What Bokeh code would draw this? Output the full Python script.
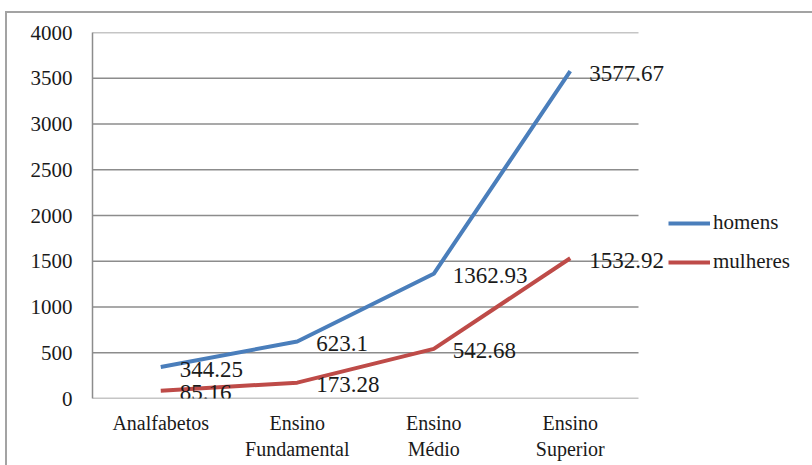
from bokeh.plotting import figure
from bokeh.models import (ColumnDataSource, LabelSet, Legend, LegendItem, FixedTicker,
                          Range1d, InlineStyleSheet)
from bokeh.embed import file_html
from bokeh.resources import INLINE

categories = ["Analfabetos", "Ensino\nFundamental", "Ensino\nMédio", "Ensino\nSuperior"]
homens = [344.25, 623.1, 1362.93, 3577.67]
mulheres = [85.16, 173.28, 542.68, 1532.92]
y_ticks = [0, 500, 1000, 1500, 2000, 2500, 3000, 3500, 4000]
series_names = ["homens", "mulheres"]

FONT = "Liberation Serif"
BLUE = "#4a7ebb"
RED = "#be4b48"
GRID = "#8c8c8c"
TXT = "#1a1a1a"

n = len(categories)
xpos = [i + 0.5 for i in range(n)]          # category centres on a linear scale
# plot area is 546 px wide for the 4 categories; the frame continues to the right edge
# so that labels and legend outside the category area are not clipped
x_end = n * 720 / 546

css = InlineStyleSheet(css=""":host::before { content: ""; position: absolute; left: 5px; top: 11px;
 right: 0px; bottom: 0px; border-top: 2px solid #a3a3a3; border-left: 2px solid #a3a3a3;
 pointer-events: none; z-index: 5; }
:host { position: relative; }""")

p = figure(width=812, height=465, x_range=Range1d(0, x_end), y_range=Range1d(0, 4000),
           output_backend="svg", toolbar_location=None,
           min_border_left=92, min_border_right=0, min_border_top=32, min_border_bottom=67,
           stylesheets=[css])
p.outline_line_color = None
p.background_fill_color = None
p.border_fill_color = None

src_h = ColumnDataSource(dict(x=xpos, y=homens, t=[str(v) for v in homens]))
src_m = ColumnDataSource(dict(x=xpos, y=mulheres, t=[str(v) for v in mulheres]))
src_g = ColumnDataSource(dict(x0=[0] * len(y_ticks), x1=[n] * len(y_ticks), y=y_ticks))

# grid lines limited to the category area
p.xgrid.grid_line_color = None
p.ygrid.grid_line_color = None
p.segment(x0="x0", x1="x1", y0="y", y1="y", source=src_g, line_color=GRID, line_width=1.5)

p.yaxis.ticker = FixedTicker(ticks=y_ticks)
p.xaxis.ticker = FixedTicker(ticks=xpos)
p.xaxis.major_label_overrides = {x: c for x, c in zip(xpos, categories)}
for ax in (p.xaxis[0], p.yaxis[0]):
    ax.axis_line_color = GRID
    ax.axis_line_width = 1.5
    ax.major_tick_line_color = None
    ax.minor_tick_line_color = None
    ax.major_tick_in = 0
    ax.major_tick_out = 0
    ax.major_label_text_font = FONT
    ax.major_label_text_color = TXT
p.xaxis.axis_line_color = None
p.yaxis.major_label_text_font_size = "21px"
p.yaxis.major_label_standoff = 20
p.xaxis.major_label_text_font_size = "20px"
p.xaxis.major_label_standoff = 13

r1 = p.line("x", "y", source=src_h, line_color=BLUE, line_width=4)
r2 = p.line("x", "y", source=src_m, line_color=RED, line_width=4)

for s in (src_h, src_m):
    p.add_layout(LabelSet(x="x", y="y", text="t", source=s, x_offset=19, y_offset=-2,
                          text_baseline="middle", text_align="left",
                          text_font=FONT, text_font_size="23px", text_color=TXT))

legend = Legend(items=[LegendItem(label=series_names[0], renderers=[r1]),
                       LegendItem(label=series_names[1], renderers=[r2])],
                location=(576, 124), padding=0, margin=0, border_line_color=None,
                background_fill_alpha=0, glyph_width=42, glyph_height=24, label_height=24,
                label_standoff=3, spacing=14, label_text_font=FONT,
                label_text_font_size="21px", label_text_color=TXT)
p.add_layout(legend, "center")

open("out.html", "w").write(file_html(p, INLINE))
